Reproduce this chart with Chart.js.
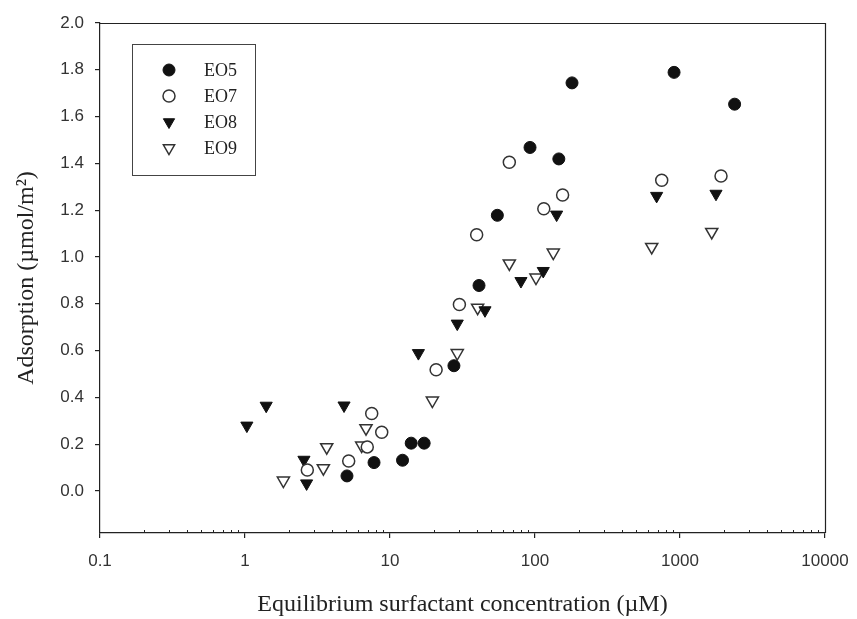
<!DOCTYPE html>
<html>
<head>
<meta charset="utf-8">
<script src="https://cdn.jsdelivr.net/npm/chart.js@4.4.1/dist/chart.umd.min.js"></script>
<style>
  html, body { margin: 0; padding: 0; background: #fff; }
  #wrap { width: 857px; height: 619px; position: relative; }
</style>
</head>
<body>
<div id="wrap"><canvas id="c"></canvas></div>
<script>
// ---- data ----
const seriesNames = ['EO5', 'EO7', 'EO8', 'EO9'];

const eo5X = [5.05, 7.76, 12.2, 14.0, 17.2, 27.6, 41.1, 55, 92.4, 146, 180, 910, 2380];
const eo5Y = [0.064, 0.121, 0.131, 0.204, 0.204, 0.535, 0.878, 1.178, 1.468, 1.419, 1.744, 1.789, 1.653];

const eo7X = [2.69, 5.19, 6.97, 7.48, 8.77, 20.8, 30.1, 39.6, 66.5, 115, 155, 748, 1918];
const eo7Y = [0.089, 0.128, 0.188, 0.331, 0.251, 0.518, 0.797, 1.095, 1.405, 1.206, 1.265, 1.328, 1.346];

const eo8X = [1.03, 1.40, 2.55, 2.66, 4.82, 15.7, 29.1, 45.2, 80, 114, 141, 690, 1771];
const eo8Y = [0.279, 0.364, 0.133, 0.032, 0.365, 0.589, 0.715, 0.772, 0.897, 0.940, 1.181, 1.261, 1.270];

const eo9X = [1.84, 3.47, 3.66, 6.38, 6.83, 19.6, 29.1, 40.2, 66.5, 101.6, 133.7, 638, 1655];
const eo9Y = [0.044, 0.097, 0.187, 0.194, 0.268, 0.386, 0.589, 0.783, 0.972, 0.912, 1.019, 1.043, 1.107];

const xTicks = [0.1, 1, 10, 100, 1000, 10000];
const xTickLabels = ['0.1', '1', '10', '100', '1000', '10000'];
const yTicks = [0.0, 0.2, 0.4, 0.6, 0.8, 1.0, 1.2, 1.4, 1.6, 1.8, 2.0];
const yTickLabels = ['0.0', '0.2', '0.4', '0.6', '0.8', '1.0', '1.2', '1.4', '1.6', '1.8', '2.0'];

const xTitle = 'Equilibrium surfactant concentration (µM)';
const yTitle = 'Adsorption (µmol/m²)';

// ---- build ----
const pts = (xs, ys) => xs.map((x, i) => ({ x: x, y: ys[i] }));

const styles = [
  { pointStyle: 'circle', rotation: 0, radius: 6, bg: '#111', border: '#111', bw: 1 },
  { pointStyle: 'circle', rotation: 0, radius: 6, bg: '#fff', border: '#333', bw: 1.5 },
  { pointStyle: 'triangle', rotation: 180, radius: 7, bg: '#111', border: '#111', bw: 1 },
  { pointStyle: 'triangle', rotation: 180, radius: 7, bg: '#fff', border: '#333', bw: 1.5 }
];
const seriesData = [pts(eo5X, eo5Y), pts(eo7X, eo7Y), pts(eo8X, eo8Y), pts(eo9X, eo9Y)];

const datasets = seriesNames.map((n, i) => ({
  label: n,
  data: seriesData[i],
  pointStyle: styles[i].pointStyle,
  rotation: styles[i].rotation,
  pointRadius: styles[i].radius,
  pointHoverRadius: styles[i].radius,
  backgroundColor: styles[i].bg,
  borderColor: styles[i].border,
  borderWidth: styles[i].bw,
  showLine: false
}));

const framePlugin = {
  id: 'frame',
  afterDraw(chart) {
    const ctx = chart.ctx;
    const a = chart.chartArea;
    const xs = chart.scales.x;
    ctx.save();
    ctx.strokeStyle = '#222';
    ctx.lineWidth = 1.2;
    // top & right frame lines
    ctx.beginPath();
    ctx.moveTo(a.left, a.top + 0.5);
    ctx.lineTo(a.right + 0.5, a.top + 0.5);
    ctx.lineTo(a.right + 0.5, a.bottom);
    ctx.stroke();
    // minor x ticks pointing inward
    ctx.lineWidth = 1;
    ctx.beginPath();
    for (let d = 0; d < xTicks.length - 1; d++) {
      for (let m = 2; m <= 9; m++) {
        const v = xTicks[d] * m;
        const px = Math.round(xs.getPixelForValue(v)) + 0.5;
        ctx.moveTo(px, a.bottom);
        ctx.lineTo(px, a.bottom - 3);
      }
    }
    ctx.stroke();
    // legend box
    const bx = 132, by = 44, bw = 123, bh = 131;
    ctx.strokeStyle = '#444';
    ctx.lineWidth = 1;
    ctx.strokeRect(bx + 0.5, by + 0.5, bw, bh);
    const rows = [70, 96, 122, 148];
    ctx.font = '18px "Liberation Serif", "Times New Roman", serif';
    ctx.textBaseline = 'middle';
    ctx.textAlign = 'left';
    seriesNames.forEach((n, i) => {
      const s = styles[i];
      ctx.fillStyle = s.bg;
      ctx.strokeStyle = s.border;
      ctx.lineWidth = s.bw;
      Chart.helpers.drawPoint(ctx, {
        pointStyle: s.pointStyle,
        rotation: s.rotation,
        radius: s.pointStyle === 'circle' ? 6 : 6.5,
        borderWidth: s.bw
      }, 169, rows[i]);
      ctx.fillStyle = '#222';
      ctx.fillText(n, 204, rows[i] + 1);
    });
    ctx.restore();
  }
};

new Chart(document.getElementById('c'), {
  type: 'scatter',
  data: { datasets: datasets },
  plugins: [framePlugin],
  options: {
    responsive: true,
    maintainAspectRatio: false,
    animation: false,
    layout: { padding: { top: 23, right: 32, left: 0, bottom: 0 } },
    plugins: {
      legend: { display: false },
      tooltip: { enabled: false }
    },
    scales: {
      x: {
        type: 'logarithmic',
        position: 'bottom',
        min: 0.1,
        max: 10000,
        afterBuildTicks: (s) => { s.ticks = xTicks.map(v => ({ value: v })); },
        afterFit: (s) => { s.height = 86; s.paddingLeft = 0; s.paddingRight = 0; },
        ticks: {
          autoSkip: false,
          maxRotation: 0,
          padding: 13,
          color: '#333',
          font: { family: '"Liberation Sans", Arial, sans-serif', size: 17 },
          callback: (v, i) => xTickLabels[i]
        },
        grid: { display: true, drawOnChartArea: false, drawTicks: true, tickLength: 5, color: '#222', lineWidth: 1.2 },
        border: { display: true, color: '#222', width: 1.2 },
        title: {
          display: true,
          text: xTitle,
          color: '#222',
          font: { family: '"Liberation Serif", "Times New Roman", serif', size: 24 },
          padding: { top: 0, bottom: 0 }
        }
      },
      y: {
        type: 'linear',
        position: 'left',
        min: -0.18,
        max: 2.0,
        afterBuildTicks: (s) => { s.ticks = yTicks.map(v => ({ value: v })); },
        afterFit: (s) => { s.width = 100; s.paddingTop = 0; s.paddingBottom = 0; },
        ticks: {
          autoSkip: false,
          padding: 11,
          color: '#333',
          font: { family: '"Liberation Sans", Arial, sans-serif', size: 17 },
          callback: (v, i) => yTickLabels[i]
        },
        grid: { display: true, drawOnChartArea: false, drawTicks: true, tickLength: 5, color: '#222', lineWidth: 1.2 },
        border: { display: true, color: '#222', width: 1.2 },
        title: {
          display: true,
          text: yTitle,
          color: '#222',
          font: { family: '"Liberation Serif", "Times New Roman", serif', size: 24 },
          padding: { top: 12, bottom: 0 }
        }
      }
    }
  }
});
</script>
</body>
</html>
